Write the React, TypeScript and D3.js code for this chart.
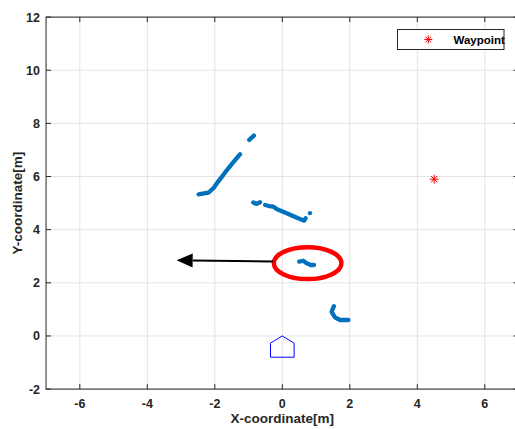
import React from 'react';
import * as d3 from 'd3';

// scan segments [x, y] in metres
const scanA: [number, number][] = [
  [-2.48, 5.33], [-2.19, 5.39], [-2.04, 5.56], [-1.9, 5.81], [-1.75, 6.06],
  [-1.6, 6.31], [-1.45, 6.54], [-1.25, 6.84],
];
const scanB: [number, number][] = [[-0.98, 7.38], [-0.84, 7.54]];
const scanC: [number, number][] = [[-0.86, 5.02], [-0.76, 4.97], [-0.66, 5.03]];
const scanD: [number, number][] = [
  [-0.51, 4.93], [-0.39, 4.89], [-0.27, 4.87], [-0.17, 4.78], [0.18, 4.59],
  [0.47, 4.43], [0.65, 4.34], [0.69, 4.43],
];
const scanE: [number, number][] = [[0.82, 4.62], [0.82, 4.62]];
const scanF: [number, number][] = [
  [0.5, 2.8], [0.62, 2.83], [0.72, 2.74], [0.84, 2.67], [0.94, 2.67],
];
const scanG: [number, number][] = [
  [1.53, 1.12], [1.46, 0.91], [1.56, 0.7], [1.71, 0.6], [1.83, 0.6], [1.96, 0.6],
];
const segments = [scanA, scanB, scanC, scanD, scanE, scanF, scanG];

const waypoint: [number, number] = [4.5, 5.9];
const robot: [number, number][] = [[0, 0], [0.35, -0.27], [0.35, -0.8], [-0.35, -0.8], [-0.35, -0.27]];
const arrowFrom: [number, number] = [-0.27, 2.8];
const arrowTo: [number, number] = [-3.13, 2.85];
const circleCenter: [number, number] = [0.75, 2.74];
const circleRadii: [number, number] = [1.0, 0.6];

const xTicks = [-6, -4, -2, 0, 2, 4, 6];
const yTicks = [-2, 0, 2, 4, 6, 8, 10, 12];

const W = 515;
const H = 429;
const font = '"Liberation Sans", Arial, sans-serif';

export default function App() {
  const x = d3.scaleLinear().domain([-7, 7]).range([46.05, 518.55]);
  const y = d3.scaleLinear().domain([-2, 12]).range([389.1, 17.1]);
  const [x0, x1] = x.range();
  const [y0, y1] = y.range();

  const line = d3.line<[number, number]>().x(d => x(d[0])).y(d => y(d[1]));

  // arrow geometry in pixels
  const ax0 = x(arrowFrom[0]), ay0 = y(arrowFrom[1]);
  const ax1 = x(arrowTo[0]), ay1 = y(arrowTo[1]);
  const ang = Math.atan2(ay1 - ay0, ax1 - ax0);
  const headLen = 16, headHalf = 7;
  const bx = ax1 - headLen * Math.cos(ang), by = ay1 - headLen * Math.sin(ang);
  const head = [
    [ax1, ay1],
    [bx + headHalf * Math.sin(ang), by - headHalf * Math.cos(ang)],
    [bx - headHalf * Math.sin(ang), by + headHalf * Math.cos(ang)],
  ].map(p => p.join(',')).join(' ');

  const star = (cx: number, cy: number, r: number) => {
    const d = r * 0.707;
    return `M${cx - r},${cy}H${cx + r}M${cx},${cy - r}V${cy + r}` +
      `M${cx - d},${cy - d}L${cx + d},${cy + d}M${cx - d},${cy + d}L${cx + d},${cy - d}`;
  };

  return (
    <svg width={W} height={H} style={{ position: 'absolute', left: 0, top: 0, background: '#fff' }}
      fontFamily={font}>
      <rect x={0} y={0} width={W} height={H} fill="#fff" />
      {/* grid */}
      <g stroke="#e3e3e3" strokeWidth={1}>
        {xTicks.map(t => <line key={'gx' + t} x1={x(t)} x2={x(t)} y1={y0} y2={y1} />)}
        {yTicks.map(t => <line key={'gy' + t} x1={x0} x2={x1} y1={y(t)} y2={y(t)} />)}
      </g>
      {/* axes box and ticks */}
      <rect x={x0} y={y1} width={x1 - x0} height={y0 - y1} fill="none" stroke="#262626" strokeWidth={1} />
      <g stroke="#262626" strokeWidth={1}>
        {xTicks.map(t => (
          <g key={'tx' + t}>
            <line x1={x(t)} x2={x(t)} y1={y0} y2={y0 - 5} />
            <line x1={x(t)} x2={x(t)} y1={y1} y2={y1 + 5} />
          </g>
        ))}
        {yTicks.map(t => (
          <g key={'ty' + t}>
            <line x1={x0} x2={x0 + 5} y1={y(t)} y2={y(t)} />
            <line x1={x1} x2={x1 - 5} y1={y(t)} y2={y(t)} />
          </g>
        ))}
      </g>
      <g fontSize={12.5} fontWeight="bold" fill="#262626">
        {xTicks.map(t => (
          <text key={'lx' + t} x={x(t)} y={407.5} textAnchor="middle">{t}</text>
        ))}
        {yTicks.map(t => (
          <text key={'ly' + t} x={40} y={y(t) + 4.5} textAnchor="end">{t}</text>
        ))}
      </g>
      <text x={(x0 + 518.55) / 2} y={423} textAnchor="middle" fontSize={13.5} fontWeight="bold" fill="#262626">
        X-coordinate[m]
      </text>
      <text transform={`translate(22,${(y0 + y1) / 2}) rotate(-90)`} textAnchor="middle" fontSize={13.5}
        fontWeight="bold" fill="#262626">
        Y-coordinate[m]
      </text>

      {/* scan points */}
      <g fill="none" stroke="#0072BD" strokeWidth={4.3} strokeLinecap="round" strokeLinejoin="round">
        {segments.map((s, i) => <path key={i} d={line(s) || ''} />)}
      </g>

      {/* robot */}
      <path d={(line(robot) || '') + 'Z'} fill="none" stroke="#0000ff" strokeWidth={1} />

      {/* highlighted cluster */}
      <ellipse cx={x(circleCenter[0])} cy={y(circleCenter[1])}
        rx={x(circleRadii[0]) - x(0)} ry={y(0) - y(circleRadii[1])}
        fill="none" stroke="#ff0000" strokeWidth={4.5} />

      {/* arrow */}
      <line x1={ax0} y1={ay0} x2={bx} y2={by} stroke="#000" strokeWidth={2} />
      <polygon points={head} fill="#000" />

      {/* waypoint */}
      <path d={star(x(waypoint[0]), y(waypoint[1]), 4.5)} stroke="#ff0000" strokeWidth={1} fill="none" />

      {/* legend */}
      <rect x={397.5} y={29.5} width={106.5} height={20} fill="#fff" stroke="#262626" strokeWidth={1} />
      <path d={star(428.3, 39.5, 4)} stroke="#ff0000" strokeWidth={1} fill="none" />
      <text x={453.5} y={44} fontSize={11.5} fontWeight="bold" fill="#000">Waypoint</text>
    </svg>
  );
}
